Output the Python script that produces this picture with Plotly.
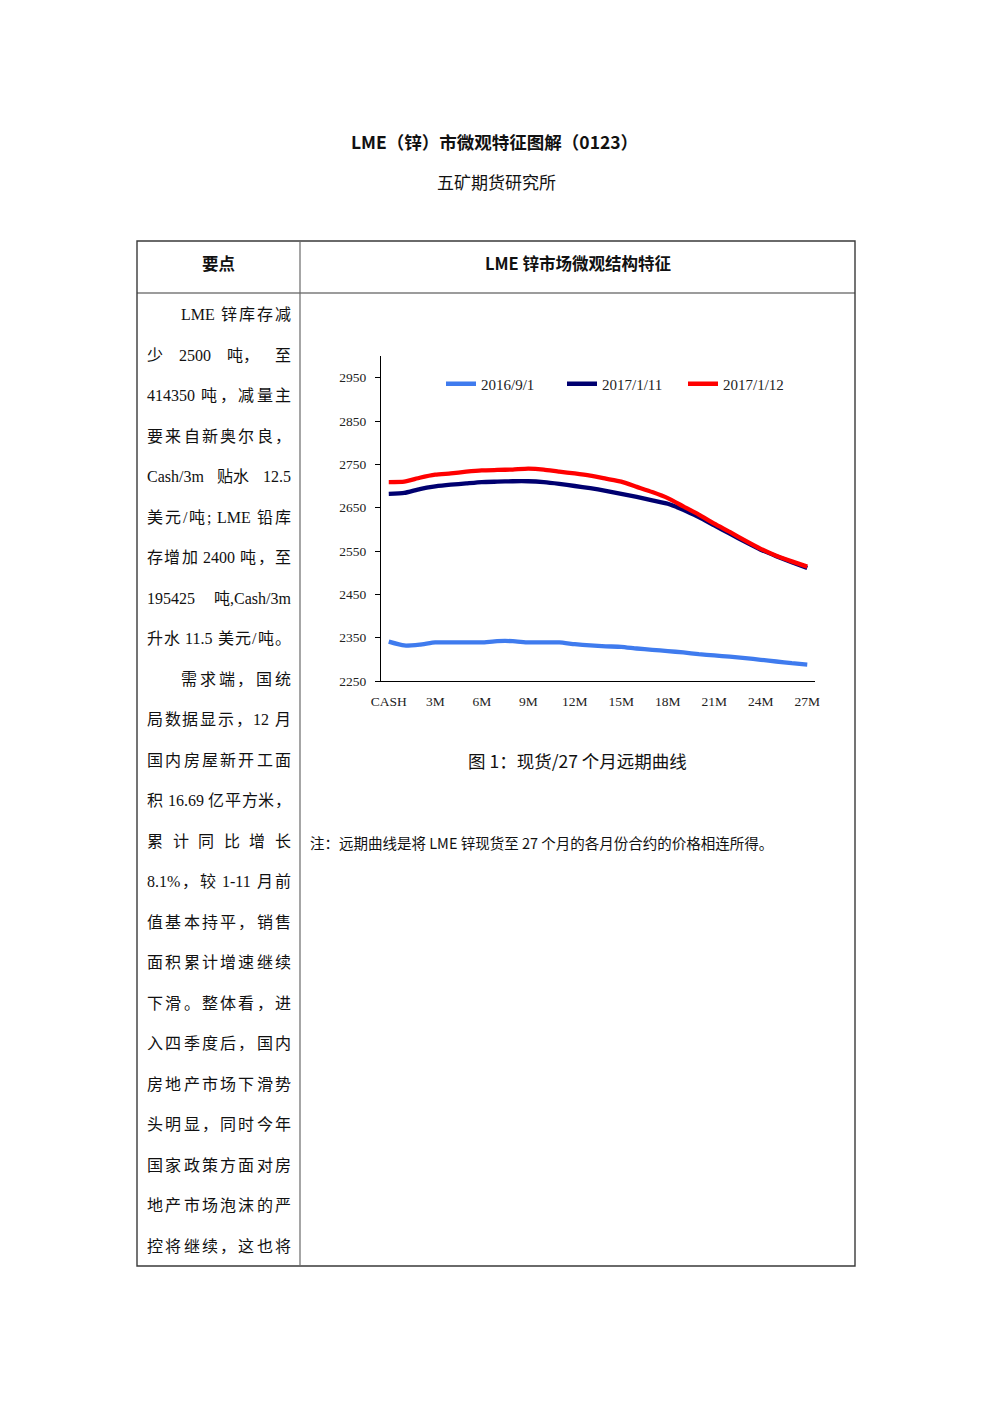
import plotly.graph_objects as go

W, H = 992, 1403

# ---------------- data ----------------
months = ["CASH"] + [f"{i}M" for i in range(1, 28)]
tick_labels = ["CASH", "3M", "6M", "9M", "12M", "15M", "18M", "21M", "24M", "27M"]

s_20160901 = [2341, 2332, 2334, 2339, 2339, 2339, 2339, 2342, 2342, 2339,
              2339, 2339, 2335, 2332, 2330, 2329, 2325, 2322, 2319, 2316,
              2312, 2309, 2306, 2303, 2299, 2295, 2291, 2288]
s_20170111 = [2682, 2684, 2693, 2699, 2703, 2706, 2709, 2710, 2711, 2711,
              2709, 2705, 2700, 2695, 2689, 2682, 2675, 2667, 2659, 2645,
              2628, 2609, 2590, 2571, 2553, 2538, 2524, 2511]
s_20170112 = [2709, 2710, 2719, 2726, 2729, 2733, 2736, 2737, 2738, 2740,
              2738, 2733, 2729, 2724, 2717, 2710, 2698, 2686, 2672, 2653,
              2634, 2613, 2594, 2574, 2555, 2539, 2526, 2514]

series_names = ["2016/9/1", "2017/1/11", "2017/1/12"]
series_colors = ["#3F7BEE", "#000070", "#FF0000"]

title_text = "LME（锌）市微观特征图解（0123）"
subtitle_text = "五矿期货研究所"
header_left = "要点"
header_right = "LME 锌市场微观结构特征"
caption_text = "图 1：现货/27 个月远期曲线"
note_text = "注：远期曲线是将 LME 锌现货至 27 个月的各月份合约的价格相连所得。"

body_lines = [
    "LME 锌库存减",
    "少 2500 吨， 至",
    "414350 吨，减量主",
    "要来自新奥尔良，",
    "Cash/3m 贴水 12.5",
    "美元/吨; LME 铅库",
    "存增加 2400 吨，至",
    "195425 吨,Cash/3m",
    "升水 11.5 美元/吨。",
    "需求端，国统",
    "局数据显示，12 月",
    "国内房屋新开工面",
    "积 16.69 亿平方米，",
    "累 计 同 比 增 长",
    "8.1%，较 1-11 月前",
    "值基本持平，销售",
    "面积累计增速继续",
    "下滑。整体看，进",
    "入四季度后，国内",
    "房地产市场下滑势",
    "头明显，同时今年",
    "国家政策方面对房",
    "地产市场泡沫的严",
    "控将继续，这也将",
]
indented = {0, 9}
space_justified = {1, 4, 7}

# ---------------- helpers ----------------
def px(x):
    return x / W


def py(y):
    return 1 - y / H


SERIF = "Liberation Serif, Noto Sans CJK SC, serif"
SANS = "Noto Sans CJK SC, Noto Sans, sans-serif"

fig = go.Figure()
for name, vals, col in zip(series_names, [s_20160901, s_20170111, s_20170112], series_colors):
    fig.add_trace(go.Scatter(
        x=months, y=vals, name=name, mode="lines",
        line=dict(color=col, width=4.3, shape="spline", smoothing=0.5),
    ))

fig.update_layout(
    width=W, height=H,
    margin=dict(l=0, r=0, t=0, b=0, autoexpand=False),
    paper_bgcolor="white", plot_bgcolor="white",
    showlegend=True,
    legend=dict(
        orientation="h", x=px(441), y=py(384), xanchor="left", yanchor="middle",
        font=dict(family=SERIF, size=15, color="#222"),
        entrywidth=76, entrywidthmode="pixels",
        bgcolor="rgba(0,0,0,0)", itemclick=False,
    ),
    xaxis=dict(
        domain=[px(381), px(815)],
        type="category", range=[-0.5, 27.5],
        tickmode="array", tickvals=tick_labels, ticktext=tick_labels,
        showline=True, linecolor="black", linewidth=1,
        ticks="", showgrid=False, zeroline=False, automargin=False,
        tickfont=dict(family=SERIF, size=13.5, color="#222"),
        ticklabelstandoff=8, fixedrange=True,
    ),
    yaxis=dict(
        domain=[py(681), py(356)],
        range=[2250, 3000], tick0=2250, dtick=100,
        showline=True, linecolor="black", linewidth=1,
        ticks="outside", ticklen=5, tickcolor="black",
        showgrid=False, zeroline=False, automargin=False,
        tickfont=dict(family=SERIF, size=13.5, color="#222"),
        ticklabelstandoff=6, fixedrange=True,
    ),
)

# ---------------- table frame ----------------
LC = "#3a3a3a"
shapes = [
    dict(type="rect", xref="paper", yref="paper", x0=px(137), x1=px(855), y0=py(241), y1=py(1266),
         line=dict(color=LC, width=1.4)),
    dict(type="line", xref="paper", yref="paper", x0=px(137), x1=px(855), y0=py(293), y1=py(293),
         line=dict(color=LC, width=1.2)),
    dict(type="line", xref="paper", yref="paper", x0=px(300), x1=px(300), y0=py(241), y1=py(1266),
         line=dict(color="#6a6a6a", width=1.2)),
]
fig.update_layout(shapes=shapes)

ann = []


def add_text(x, y, text, size, family=SANS, bold=False, anchor="center", color="#111"):
    t = f"<b>{text}</b>" if bold else text
    ann.append(dict(x=px(x), y=py(y), xref="paper", yref="paper", text=t, showarrow=False,
                    xanchor=anchor, yanchor="middle", font=dict(family=family, size=size, color=color)))


add_text(494, 141, title_text, 17.5, bold=True)
add_text(496, 181, subtitle_text, 17)
add_text(218, 263, header_left, 16.5, bold=True)
add_text(578, 263, header_right, 16.5, bold=True)
add_text(577, 761, caption_text, 17.5)
add_text(308, 842, note_text, 14.5, anchor="left")

# ---------------- justified body text ----------------
FS = 16
LAT = {"0": .5, "1": .5, "2": .5, "3": .5, "4": .5, "5": .5, "6": .5, "7": .5, "8": .5, "9": .5,
       ".": .25, ",": .25, "/": .278, "%": .833, "-": .333, ";": .278, "L": .611, "M": .889,
       "E": .611, "C": .667, "a": .444, "s": .389, "h": .5, "m": .778}
SPACE = 4


def is_latin(ch):
    return ch in LAT


def tokens_of(line):
    # returns list of (token, preceded_by_space)
    toks = []
    for wi, word in enumerate(line.split(" ")):
        cur = ""
        first = True
        for ch in word:
            if is_latin(ch):
                cur += ch
            else:
                if cur:
                    toks.append((cur, first and wi > 0))
                    first = False
                    cur = ""
                toks.append((ch, first and wi > 0))
                first = False
        if cur:
            toks.append((cur, first and wi > 0))
    return toks


def tok_width(t):
    if all(is_latin(c) for c in t):
        return sum(LAT[c] for c in t) * FS
    return FS * len(t)


for i, line in enumerate(body_lines):
    y = 315 + i * 40.48
    x0 = 181 if i in indented else 147
    x1 = 291
    toks = tokens_of(line)
    widths = [tok_width(t) for t, _ in toks]
    n_sp = sum(1 for _, s in toks if s)
    natural = sum(widths) + n_sp * SPACE
    extra = x1 - x0 - natural
    if i in space_justified and n_sp > 0:
        gaps = [(SPACE + extra / n_sp) if s else 0 for _, s in toks]
    else:
        g = extra / max(len(toks) - 1, 1)
        gaps = [0] + [g + (SPACE if s else 0) for _, s in toks[1:]]
    x = x0
    for k, ((t, s), w) in enumerate(zip(toks, widths)):
        if k > 0:
            x += gaps[k]
        ann.append(dict(x=px(x - 1), y=py(y), xref="paper", yref="paper", text=t, showarrow=False,
                        xanchor="left", yanchor="middle", borderpad=0,
                        font=dict(family=SERIF, size=FS, color="#111")))
        x += w

fig.update_layout(annotations=ann)

fig.write_html(
    "out.html",
    post_script="document.body.style.margin='0';document.body.style.padding='0';"
                "document.documentElement.style.overflow='hidden';",
)
